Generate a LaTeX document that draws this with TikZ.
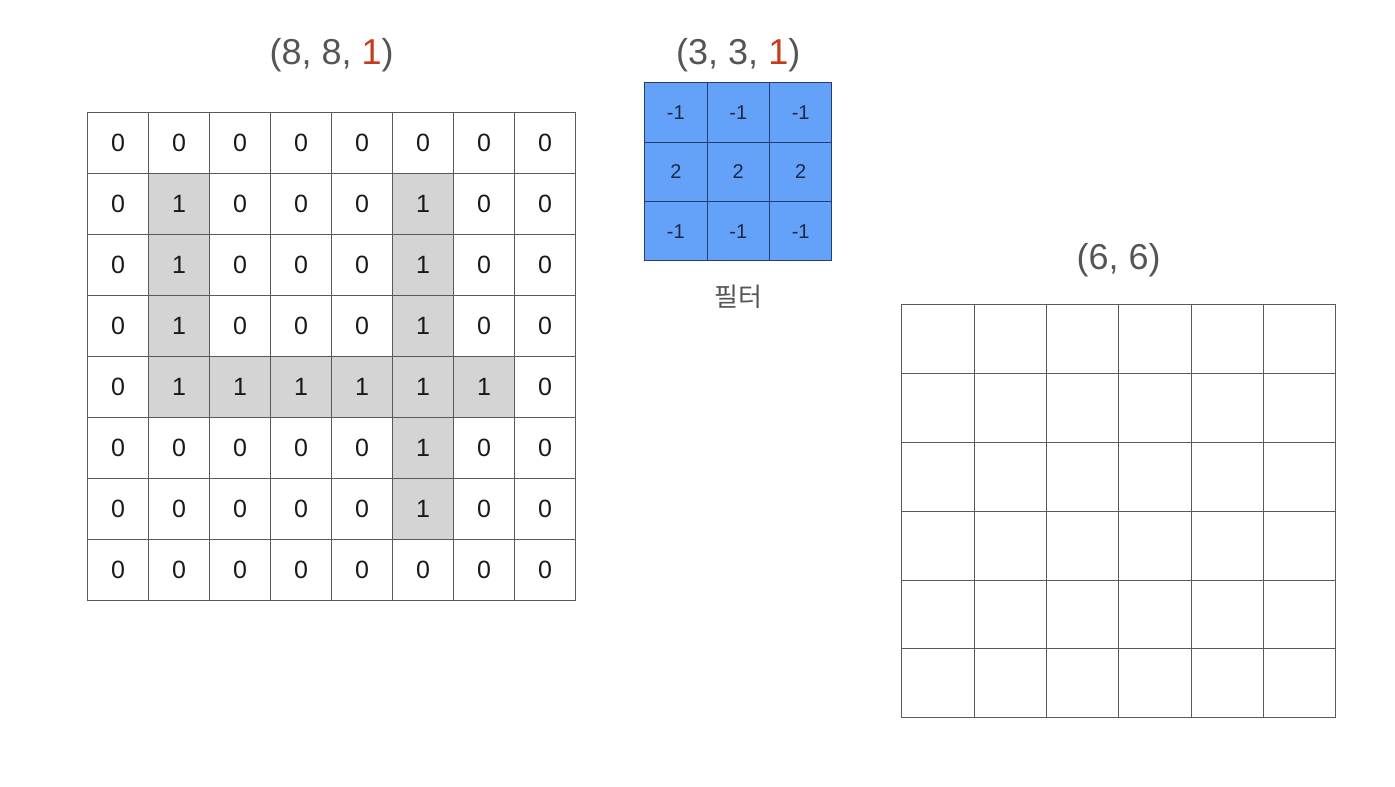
\documentclass[tikz,border=0pt]{standalone}
\usepackage{fontspec}
\setmainfont{Liberation Sans}
\newfontfamily\krfont{Noto Sans CJK KR}
\usepackage{xcolor}
\definecolor{gridline}{RGB}{90,90,90}
\definecolor{shade}{RGB}{212,212,212}
\definecolor{filterblue}{RGB}{100,162,250}
\definecolor{filterline}{RGB}{40,60,110}
\definecolor{filtertext}{RGB}{30,40,70}
\definecolor{titlegray}{RGB}{85,85,85}
\definecolor{chanred}{RGB}{196,60,28}
\usepackage{tikz}
\usetikzlibrary{matrix}
\usetikzlibrary{positioning}
\tikzset{
  cell/.style={draw=gridline,line width=0.9pt,minimum width=61pt,minimum height=61pt,inner sep=0pt,text=black!90,font=\fontsize{25}{25}\selectfont},
  hot/.style={fill=shade},
  fcell/.style={draw=filterline,fill=filterblue,line width=0.9pt,minimum width=62.4pt,minimum height=59.4pt,inner sep=0pt,text=filtertext,font=\fontsize{20}{20}\selectfont},
  ocell/.style={draw=gridline,line width=0.9pt,minimum width=72.35pt,minimum height=68.85pt,inner sep=0pt},
  title/.style={inner sep=0pt,text=titlegray,font=\fontsize{36}{36}\selectfont},
}

\begin{document}
\begin{tikzpicture}[x=1pt,y=1pt]
\useasboundingbox (0,0) rectangle (1395,-787);
\matrix (image) [matrix of nodes,nodes={cell},column sep=-0.9pt,row sep=-0.9pt,inner sep=0pt,anchor=north west] at (87,-112)
{
0&0&0&0&0&0&0&0\\
0&|[hot]|1&0&0&0&|[hot]|1&0&0\\
0&|[hot]|1&0&0&0&|[hot]|1&0&0\\
0&|[hot]|1&0&0&0&|[hot]|1&0&0\\
0&|[hot]|1&|[hot]|1&|[hot]|1&|[hot]|1&|[hot]|1&|[hot]|1&0\\
0&0&0&0&0&|[hot]|1&0&0\\
0&0&0&0&0&|[hot]|1&0&0\\
0&0&0&0&0&0&0&0\\
};
\node[title] (imagetitle) [above=40pt of image] {(8, 8, \textcolor{chanred}{1})};

% filter
\matrix (filter) [matrix of nodes,nodes={fcell},column sep=-0.9pt,row sep=-0.9pt,inner sep=0pt,anchor=north west] at (644,-82)
{
-1&-1&-1\\
2&2&2\\
-1&-1&-1\\
};
\node[title] (filtertitle) [above=10pt of filter] {(3, 3, \textcolor{chanred}{1})};
\node[inner sep=0pt,text=titlegray,font=\krfont\fontsize{26}{26}\selectfont] (filtername) [below=23pt of filter] {필터};

% output
\matrix (output) [matrix of nodes,nodes in empty cells,nodes={ocell},column sep=-0.9pt,row sep=-0.9pt,inner sep=0pt,anchor=north west] at (901,-304)
{
&&&&&\\
&&&&&\\
&&&&&\\
&&&&&\\
&&&&&\\
&&&&&\\
};
\node[title] (outputtitle) [above=27pt of output] {(6, 6)};
\end{tikzpicture}
\end{document}
